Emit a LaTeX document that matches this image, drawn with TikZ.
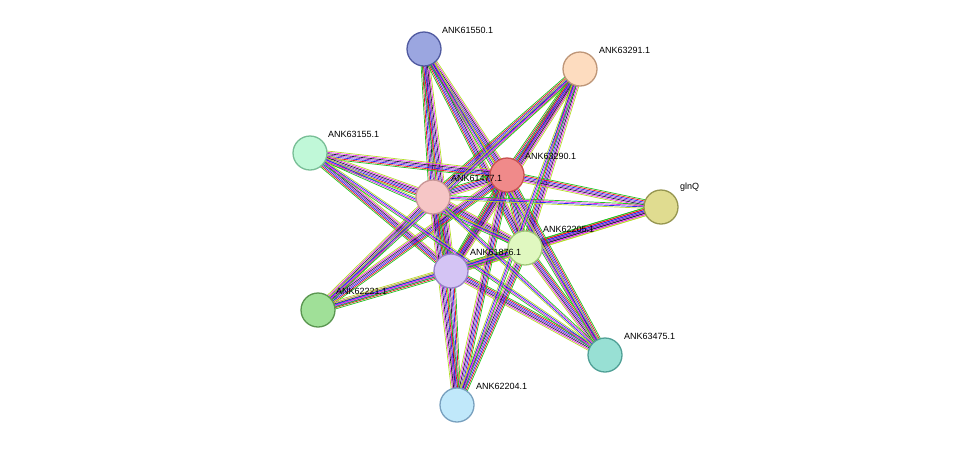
\documentclass[tikz,border=0pt]{standalone}
\usepackage{fontspec}
\setmainfont{Liberation Sans}
\usetikzlibrary{calc}

\definecolor{lkgreen}{HTML}{1FC41F}
\definecolor{lkred}{HTML}{E8141E}
\definecolor{lkblue}{HTML}{2828F0}
\definecolor{lkpurple}{HTML}{8C28C8}
\definecolor{lkyellow}{HTML}{B4DC28}
\definecolor{lkmagenta}{HTML}{E628E6}
\definecolor{lkdark}{HTML}{202040}

% one line of a bundle, shifted sideways by #3 (in pt)
\newcommand\strand[4]{%
  \draw[#4, line width=0.7pt] ($(#1)!#3pt!90:(#2)$) -- ($(#2)!#3pt!-90:(#1)$);}
\newcommand\fullink[2]{%
  \foreach \c [count=\i] in {lkgreen, lkred, lkblue, lkpurple, lkdark, lkmagenta, lkyellow}
    {\pgfmathsetmacro\off{(\i-4)*1.3}\strand{#1}{#2}{\off}{\c}}}
\newcommand\thinlink[2]{%
  \foreach \c [count=\i] in {lkgreen, lkmagenta, lkblue, lkyellow}
    {\pgfmathsetmacro\off{(\i-2.5)*1.3}\strand{#1}{#2}{\off}{\c}}}

\tikzset{
  protein/.style={circle, draw, line width=1.3pt, minimum size=34pt, inner sep=0pt},
  tag/.style={font=\fontsize{9}{10}\selectfont, anchor=south west, inner sep=1pt}
}

\begin{document}
\begin{tikzpicture}[x=1pt, y=-1pt]
    \useasboundingbox (0, 0) rectangle (976, 451);

    \coordinate (p61550) at (424, 49);
    \coordinate (p63291) at (580, 69);
    \coordinate (p63155) at (310, 153);
    \coordinate (p63290) at (507, 175);
    \coordinate (p61477) at (433, 197);
    \coordinate (pglnQ) at (661, 207);
    \coordinate (p62205) at (525, 248);
    \coordinate (p61876) at (451, 271);
    \coordinate (p62221) at (318, 310);
    \coordinate (p63475) at (605, 355);
    \coordinate (p62204) at (457, 405);

    % edges of the hubs
    \foreach \a/\b in {p63290/p61477, p63290/p61876, p63290/p62205, p61477/p61876, p61477/p62205, p61876/p62205,
                       p61550/p61477, p61550/p63290, p61550/p61876, p61550/p62205,
                       p63291/p63290, p63291/p61477, p63291/p61876, p63291/p62205,
                       p63155/p63290, p63155/p61477, p63155/p61876,
                       pglnQ/p63290, pglnQ/p61876, pglnQ/p62205,
                       p62221/p61477, p62221/p63290, p62221/p61876,
                       p63475/p61876, p63475/p62205, p63475/p63290,
                       p62204/p61876, p62204/p63290, p62204/p62205, p62204/p61477}
      {\fullink{\a}{\b}}
    % lighter edges
    \foreach \a/\b in {p61550/p63475, p63155/p62205, p63155/p63475, pglnQ/p61477, p62221/p62205,
                       p62221/p63291, p63475/p61477, p62204/p63291}
      {\thinlink{\a}{\b}}

    \node[protein, draw={rgb,255:red,80;green,90;blue,160}, fill={rgb,255:red,155;green,166;blue,224}] (n61550) at (p61550) {};
    \node[protein, draw={rgb,255:red,190;green,150;blue,120}, fill={rgb,255:red,253;green,220;blue,191}] (n63291) at (p63291) {};
    \node[protein, draw={rgb,255:red,120;green,190;blue,150}, fill={rgb,255:red,192;green,248;blue,216}] (n63155) at (p63155) {};
    \node[protein, draw={rgb,255:red,200;green,80;blue,80}, fill={rgb,255:red,240;green,138;blue,138}] (n63290) at (p63290) {};
    \node[protein, draw={rgb,255:red,200;green,150;blue,150}, fill={rgb,255:red,246;green,198;blue,198}] (n61477) at (p61477) {};
    \node[protein, draw={rgb,255:red,150;green,150;blue,80}, fill={rgb,255:red,224;green,220;blue,144}] (nglnQ) at (pglnQ) {};
    \node[protein, draw={rgb,255:red,160;green,200;blue,120}, fill={rgb,255:red,224;green,248;blue,192}] (n62205) at (p62205) {};
    \node[protein, draw={rgb,255:red,150;green,130;blue,200}, fill={rgb,255:red,212;green,196;blue,244}] (n61876) at (p61876) {};
    \node[protein, draw={rgb,255:red,90;green,150;blue,80}, fill={rgb,255:red,160;green,224;blue,152}] (n62221) at (p62221) {};
    \node[protein, draw={rgb,255:red,80;green,160;blue,150}, fill={rgb,255:red,152;green,224;blue,212}] (n63475) at (p63475) {};
    \node[protein, draw={rgb,255:red,120;green,160;blue,190}, fill={rgb,255:red,192;green,232;blue,250}] (n62204) at (p62204) {};

    \node[tag] at ($(p61550)+(17,-14)$) {ANK61550.1};
    \node[tag] at ($(p63291)+(18,-14)$) {ANK63291.1};
    \node[tag] at ($(p63155)+(17,-14)$) {ANK63155.1};
    \node[tag] at ($(p63290)+(17,-14)$) {ANK63290.1};
    \node[tag] at ($(p61477)+(17,-14)$) {ANK61477.1};
    \node[tag] at ($(pglnQ)+(18,-14)$) {glnQ};
    \node[tag] at ($(p62205)+(17,-14)$) {ANK62205.1};
    \node[tag] at ($(p61876)+(18,-14)$) {ANK61876.1};
    \node[tag] at ($(p62221)+(17,-14)$) {ANK62221.1};
    \node[tag] at ($(p63475)+(18,-14)$) {ANK63475.1};
    \node[tag] at ($(p62204)+(18,-14)$) {ANK62204.1};
\end{tikzpicture}
\end{document}
